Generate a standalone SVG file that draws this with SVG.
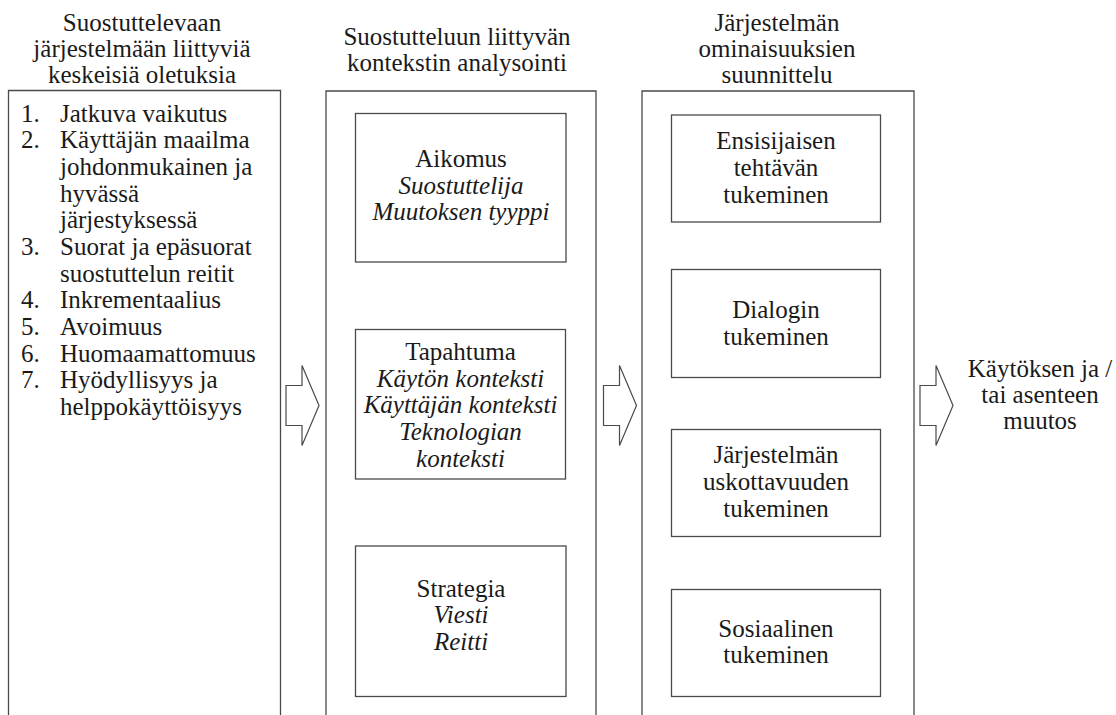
<svg xmlns="http://www.w3.org/2000/svg" width="1116" height="715" viewBox="0 0 1116 715" font-family="'Liberation Serif', 'DejaVu Serif', serif">
<style>
  text { font-size: 25px; fill: #1a1a1a; }
  .c { text-anchor: middle; }
  .i { font-style: italic; }
  .box { fill: none; stroke: #4a4a4a; stroke-width: 1.3; }
  .arrow { fill: #ffffff; stroke: #4a4a4a; stroke-width: 1.2; stroke-linejoin: miter; }
</style>
<rect width="1116" height="715" fill="#ffffff"/>

<g id="column1" font-family="Liberation Serif, serif">
  <text class="c" x="142" y="31">Suostuttelevaan</text>
  <text class="c" x="142" y="57">järjestelmään liittyviä</text>
  <text class="c" x="142" y="83">keskeisiä oletuksia</text>
  <path class="box" d="M8.5,720 V90.5 H280.5 V720"/>
  <g id="assumptions">
    <text x="21" y="121.7">1.</text><text x="60" y="121.7">Jatkuva vaikutus</text>
    <text x="21" y="148.4">2.</text><text x="60" y="148.4">Käyttäjän maailma</text>
    <text x="60" y="175">johdonmukainen ja</text>
    <text x="60" y="201.7">hyvässä</text>
    <text x="60" y="228.4">järjestyksessä</text>
    <text x="21" y="255">3.</text><text x="60" y="255">Suorat ja epäsuorat</text>
    <text x="60" y="281.7">suostuttelun reitit</text>
    <text x="21" y="308.4">4.</text><text x="60" y="308.4">Inkrementaalius</text>
    <text x="21" y="335">5.</text><text x="60" y="335">Avoimuus</text>
    <text x="21" y="361.7">6.</text><text x="60" y="361.7">Huomaamattomuus</text>
    <text x="21" y="388.4">7.</text><text x="60" y="388.4">Hyödyllisyys ja</text>
    <text x="60" y="415">helppokäyttöisyys</text>
  </g>
</g>

<g id="column2">
  <text class="c" x="457" y="44.5">Suostutteluun liittyvän</text>
  <text class="c" x="457" y="70.5">kontekstin analysointi</text>
  <path class="box" d="M326,720 V91 H596 V720"/>
</g>

<g id="aikomus">
  <rect class="box" x="355.5" y="113.5" width="210.5" height="148.5"/>
  <text class="c" x="461" y="167">Aikomus</text>
  <text class="c i" x="461" y="193.5">Suostuttelija</text>
  <text class="c i" x="461" y="220">Muutoksen tyyppi</text>
</g>

<g id="tapahtuma">
  <rect class="box" x="355.5" y="329.5" width="210" height="149.5"/>
  <text class="c" x="460.5" y="360">Tapahtuma</text>
  <text class="c i" x="460.5" y="386.7">Käytön konteksti</text>
  <text class="c i" x="460.5" y="413.3">Käyttäjän konteksti</text>
  <text class="c i" x="460.5" y="440">Teknologian</text>
  <text class="c i" x="460.5" y="466.7">konteksti</text>
</g>

<g id="strategia">
  <rect class="box" x="355.5" y="546" width="210.5" height="150.5"/>
  <text class="c" x="461" y="596.7">Strategia</text>
  <text class="c i" x="461" y="623.3">Viesti</text>
  <text class="c i" x="461" y="650">Reitti</text>
</g>

<g id="column3">
  <text class="c" x="777" y="31">Järjestelmän</text>
  <text class="c" x="777" y="57">ominaisuuksien</text>
  <text class="c" x="777" y="83">suunnittelu</text>
  <path class="box" d="M642,720 V91 H914 V720"/>
</g>

<g id="ensisijainen">
  <rect class="box" x="671.5" y="115" width="209" height="107"/>
  <text class="c" x="776" y="149.3">Ensisijaisen</text>
  <text class="c" x="776" y="176">tehtävän</text>
  <text class="c" x="776" y="202.7">tukeminen</text>
</g>

<g id="dialogi">
  <rect class="box" x="671.5" y="269.5" width="209" height="108"/>
  <text class="c" x="776" y="318.3">Dialogin</text>
  <text class="c" x="776" y="345">tukeminen</text>
</g>

<g id="uskottavuus">
  <rect class="box" x="671.5" y="429.5" width="209" height="107"/>
  <text class="c" x="776" y="463.3">Järjestelmän</text>
  <text class="c" x="776" y="490">uskottavuuden</text>
  <text class="c" x="776" y="516.7">tukeminen</text>
</g>

<g id="sosiaalinen">
  <rect class="box" x="671.5" y="589.5" width="209" height="107"/>
  <text class="c" x="776" y="636.7">Sosiaalinen</text>
  <text class="c" x="776" y="663.3">tukeminen</text>
</g>

<g id="outcome">
  <text class="c" x="1040" y="377">Käytöksen ja /</text>
  <text class="c" x="1040" y="403">tai asenteen</text>
  <text class="c" x="1040" y="429">muutos</text>
</g>

<g id="connectors">
  <polygon class="arrow" points="286,385.5 302,385.5 302,365.5 319,405.5 302,445.5 302,425.5 286,425.5"/>
  <polygon class="arrow" points="603.5,385.5 619.5,385.5 619.5,365.5 636.5,405.5 619.5,445.5 619.5,425.5 603.5,425.5"/>
  <polygon class="arrow" points="920,385.5 936,385.5 936,365.5 953,405.5 936,445.5 936,425.5 920,425.5"/>
</g>
</svg>
